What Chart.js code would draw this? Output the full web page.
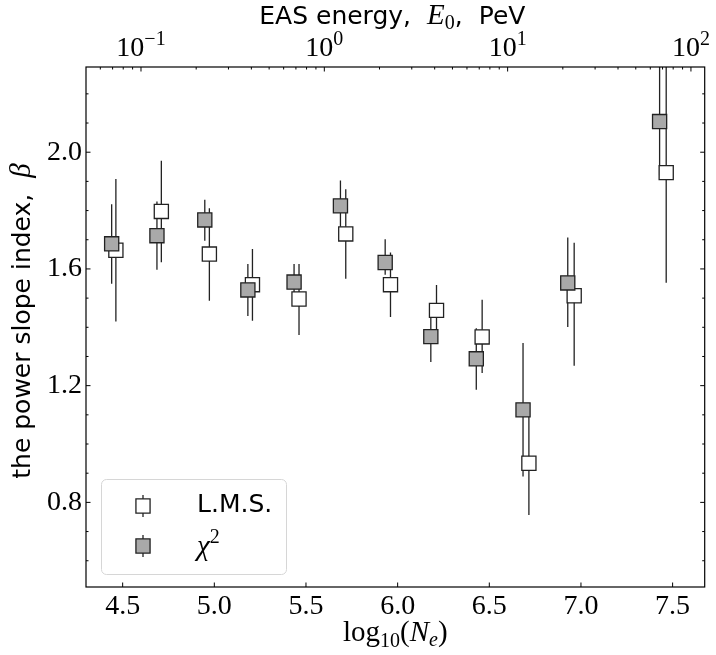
<!DOCTYPE html>
<html>
<head>
<meta charset="utf-8">
<script src="https://cdn.jsdelivr.net/npm/chart.js@4.4.1/dist/chart.umd.min.js"></script>
<style>
  html, body { margin: 0; padding: 0; background: #fff; }
  canvas { display: block; }
</style>
</head>
<body>
<canvas id="slopeChart" width="716" height="655"></canvas>
<script>
// chi^2 fit: shower size bin log10(Ne), slope index and error bar ends
const chiNe   = [4.440, 4.687, 4.948, 5.183, 5.435, 5.688, 5.932, 6.181, 6.429, 6.684, 6.928, 7.429]
const chiBeta = [1.686, 1.714, 1.768, 1.528, 1.555, 1.816, 1.622, 1.368, 1.292, 1.117, 1.552, 2.105]
const chiLow  = [1.549, 1.597, 1.697, 1.439, 1.490, 1.730, 1.580, 1.281, 1.186, 0.889, 1.401, 1.920]
const chiHigh = [1.822, 1.831, 1.837, 1.617, 1.617, 1.903, 1.702, 1.440, 1.397, 1.346, 1.708, 2.500]

// least mean squares fit
const lmsNe   = [4.463, 4.711, 4.973, 5.208, 5.462, 5.717, 5.961, 6.212, 6.461, 6.716, 6.963, 7.465]
const lmsBeta = [1.664, 1.797, 1.651, 1.546, 1.497, 1.720, 1.546, 1.458, 1.367, 0.934, 1.508, 1.930]
const lmsLow  = [1.420, 1.623, 1.491, 1.422, 1.374, 1.566, 1.435, 1.370, 1.243, 0.757, 1.268, 1.553]
const lmsHigh = [1.908, 1.971, 1.808, 1.668, 1.617, 1.873, 1.656, 1.545, 1.494, 1.120, 1.690, 2.500]

const xTicks = [4.5, 5.0, 5.5, 6.0, 6.5, 7.0, 7.5]
const yTicks = [0.8, 1.2, 1.6, 2.0]
const yMinor = [0.6, 0.7, 0.9, 1.0, 1.1, 1.3, 1.4, 1.5, 1.7, 1.8, 1.9, 2.1, 2.2]
const energyExp = [-1, 0, 1, 2]          // top axis labels, 10^n PeV

const NE_MIN = 4.3, NE_MAX = 7.675
const Y_MIN = 0.51, Y_MAX = 2.292
const NE_TO_E = 5.6                      // log10(E0/PeV) = log10(Ne) - 5.6

const sans = '"DejaVu Sans", sans-serif'
const serif = '"Liberation Serif", "DejaVu Serif", serif'
const MAJOR = 4.5, MINOR = 2.5

const lmsStyle = { fill: '#ffffff', edge: '#222222' }
const chiStyle = { fill: '#a9a9a9', edge: '#222222' }

// draw a run of text pieces with their own fonts / offsets
function drawParts(ctx, parts, x, y) {
  let w = 0
  parts.forEach(p => {
    if (p.gap) { p.w = p.gap } else { ctx.font = p.font; p.w = ctx.measureText(p.text).width }
    w += p.w
  })
  let cx = x - w / 2
  parts.forEach(p => {
    if (!p.gap) { ctx.font = p.font; ctx.fillText(p.text, cx, y + (p.dy || 0)) }
    cx += p.w
  })
}

const frameTicks = {
  id: 'frameTicks',
  afterDraw(chart) {
    const { ctx, chartArea: a, scales } = chart
    const xs = scales.x, ys = scales.y, es = scales.x2
    ctx.save()
    ctx.strokeStyle = '#000'
    ctx.fillStyle = '#000'
    ctx.lineWidth = 1.2
    ctx.strokeRect(a.left, a.top, a.right - a.left, a.bottom - a.top)

    ctx.lineWidth = 1
    ctx.beginPath()
    xTicks.forEach(v => {
      const p = xs.getPixelForValue(v)
      ctx.moveTo(p, a.bottom); ctx.lineTo(p, a.bottom - MAJOR)
    })
    const yTick = (v, len) => {
      const p = ys.getPixelForValue(v)
      ctx.moveTo(a.left, p); ctx.lineTo(a.left + len, p)
      ctx.moveTo(a.right, p); ctx.lineTo(a.right - len, p)
    }
    yTicks.forEach(v => yTick(v, MAJOR))
    yMinor.forEach(v => yTick(v, MINOR))
    // top log axis: decades and 2..9 sub-ticks
    for (let n = -2; n <= 2; n++) {
      for (let k = 1; k <= 9; k++) {
        const v = k * Math.pow(10, n)
        if (v < es.min || v > es.max) continue
        const p = es.getPixelForValue(v)
        ctx.moveTo(p, a.top); ctx.lineTo(p, a.top + (k === 1 ? MAJOR : MINOR))
      }
    }
    ctx.stroke()

    ctx.textAlign = 'left'
    ctx.textBaseline = 'alphabetic'
    // top tick labels 10^n
    energyExp.forEach(n => {
      const p = es.getPixelForValue(Math.pow(10, n))
      drawParts(ctx, [
        { text: '10', font: '28px ' + serif },
        { text: String(n).replace('-', '\u2212'), font: '20px ' + serif, dy: -11 }
      ], p, 56)
    })

    // axis titles
    const cx = (a.left + a.right) / 2
    drawParts(ctx, [
      { text: 'EAS energy,', font: '25px ' + sans },
      { gap: 16 },
      { text: 'E', font: 'italic 29px ' + serif },
      { text: '0', font: '20px ' + serif, dy: 5 },
      { text: ',', font: '25px ' + sans },
      { gap: 16 },
      { text: 'PeV', font: '25px ' + sans }
    ], cx - 3, 24)

    drawParts(ctx, [
      { text: 'log', font: '29px ' + serif },
      { text: '10', font: '20px ' + serif, dy: 6 },
      { text: '(', font: '29px ' + serif },
      { text: 'N', font: 'italic 29px ' + serif },
      { text: 'e', font: 'italic 20px ' + serif, dy: 5 },
      { text: ')', font: '29px ' + serif }
    ], cx, 641)

    ctx.save()
    ctx.translate(30, (a.top + a.bottom) / 2 - 6)
    ctx.rotate(-Math.PI / 2)
    drawParts(ctx, [
      { text: 'the power slope index,', font: '25px ' + sans },
      { gap: 16 },
      { text: '\u03b2', font: 'italic 29px ' + serif }
    ], 0, 0)
    ctx.restore()

    // legend box
    ctx.beginPath()
    ctx.roundRect(101.5, 479.5, 185, 95, 5)
    ctx.fillStyle = 'rgba(255,255,255,0.8)'
    ctx.fill()
    ctx.strokeStyle = '#d6d6d6'
    ctx.lineWidth = 1
    ctx.stroke()

    const entries = [
      { style: lmsStyle, y: 506, parts: [{ text: 'L.M.S.', font: '25px ' + sans }], base: 512 },
      { style: chiStyle, y: 546, parts: [
        { text: '\u03c7', font: 'italic 29px ' + serif },
        { text: '2', font: '20px ' + serif, dy: -12 }], base: 555 }
    ]
    entries.forEach(e => {
      ctx.strokeStyle = '#222'
      ctx.lineWidth = 1.3
      ctx.beginPath()
      ctx.moveTo(143, e.y - 11); ctx.lineTo(143, e.y + 11)
      ctx.stroke()
      ctx.fillStyle = e.style.fill
      ctx.strokeStyle = e.style.edge
      Chart.helpers.drawPoint(ctx, { pointStyle: 'rect', radius: 10, borderWidth: 1.3, rotation: 0 }, 143, e.y)
      ctx.fillStyle = '#000'
      let w = 0
      e.parts.forEach(p => { ctx.font = p.font; p.w = ctx.measureText(p.text).width; w += p.w })
      drawParts(ctx, e.parts, 197 + w / 2, e.base)
    })
    ctx.restore()
  }
}

const errBars = (ne, lo, hi) => ne.map((x, i) => ({ x, y: [lo[i], hi[i]] }))
const points = (ne, b) => ne.map((x, i) => ({ x, y: b[i] }))

new Chart(document.getElementById('slopeChart'), {
  type: 'scatter',
  data: {
    datasets: [
      { type: 'bar', label: 'L.M.S. err', data: errBars(lmsNe, lmsLow, lmsHigh),
        backgroundColor: '#222', borderWidth: 0, grouped: false, maxBarThickness: 1.3, order: 3, clip: 0 },
      { type: 'bar', label: 'chi2 err', data: errBars(chiNe, chiLow, chiHigh),
        backgroundColor: '#222', borderWidth: 0, grouped: false, maxBarThickness: 1.3, order: 3, clip: 0 },
      { label: 'L.M.S.', data: points(lmsNe, lmsBeta), pointStyle: 'rect', pointRadius: 10,
        pointBackgroundColor: lmsStyle.fill, pointBorderColor: lmsStyle.edge, pointBorderWidth: 1.3, order: 2 },
      { label: '\u03c7\u00b2', data: points(chiNe, chiBeta), pointStyle: 'rect', pointRadius: 10,
        pointBackgroundColor: chiStyle.fill, pointBorderColor: chiStyle.edge, pointBorderWidth: 1.3, order: 1 }
    ]
  },
  options: {
    responsive: false,
    animation: false,
    events: [],
    layout: { padding: { left: 0, right: 8, top: 0, bottom: 0 } },
    plugins: { legend: { display: false }, tooltip: { enabled: false } },
    scales: {
      x: {
        type: 'linear', position: 'bottom', min: NE_MIN, max: NE_MAX, bounds: 'data', offset: false,
        grid: { display: false, drawTicks: false, offset: false }, border: { display: false },
        afterBuildTicks: s => { s.ticks = xTicks.map(v => ({ value: v })) },
        afterFit: s => { s.height = 68 },
        ticks: { callback: v => v.toFixed(1), autoSkip: false, maxRotation: 0, padding: 3,
                 color: '#000', font: { family: serif, size: 28 } }
      },
      x2: {
        type: 'logarithmic', position: 'top', bounds: 'data',
        min: Math.pow(10, NE_MIN - NE_TO_E), max: Math.pow(10, NE_MAX - NE_TO_E),
        grid: { display: false, drawTicks: false }, border: { display: false },
        ticks: { display: false },
        afterFit: s => { s.height = 67 }
      },
      y: {
        type: 'linear', position: 'left', min: Y_MIN, max: Y_MAX, bounds: 'data',
        grid: { display: false, drawTicks: false }, border: { display: false },
        afterBuildTicks: s => { s.ticks = yTicks.map(v => ({ value: v })) },
        afterFit: s => { s.width = 86 },
        ticks: { callback: v => v.toFixed(1), padding: 4, color: '#000', font: { family: serif, size: 28 } }
      }
    }
  },
  plugins: [frameTicks]
})
</script>
</body>
</html>
